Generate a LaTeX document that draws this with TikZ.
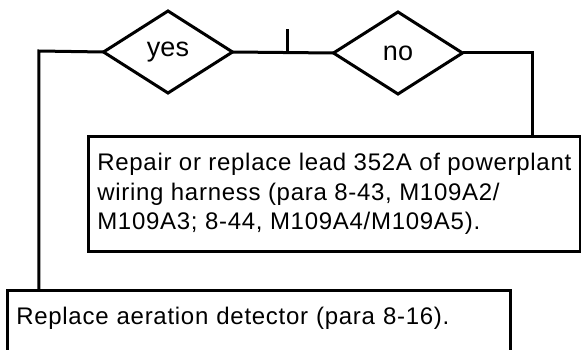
\documentclass[tikz,border=0pt]{standalone}
\usepackage{fontspec}
\setmainfont{Liberation Sans}
\usepackage{tikz}
\usetikzlibrary{positioning, calc, shapes.geometric}
\tikzset{
  actbox/.style={rectangle, draw, line width=2.6pt, fill=white, anchor=north west,
    align=left, inner xsep=9pt, font=\fontsize{24}{29.5}\selectfont\addfontfeatures{LetterSpace=3}},
  query/.style={diamond, draw, line width=3pt, inner sep=0pt, outer sep=0pt,
    minimum width=129pt, minimum height=82pt, font=\fontsize{27}{27}\selectfont},
  flow/.style={line width=3pt},
}

\begin{document}
\begin{tikzpicture}[x=1pt, y=-1pt]
    \clip (0,0) rectangle (581,350);
    \fill[white] (0,0) rectangle (581,350);
    \node[query] (yes) at (168,52) {yes};
    \node[query] (no) at (398,53) {no};
    \node[actbox, minimum width=491pt, minimum height=115pt] (repair) at (87,135)
      {Repair or replace lead 352A of powerplant\\wiring harness (para 8-43, M109A2/\\M109A3; 8-44, M109A4/M109A5).};
    \node[actbox, text width=485pt, inner ysep=17pt, text height=17pt, text depth=60pt] (replace) at (6,289)
      {Replace aeration detector (para 8-16).};
    \coordinate (lt) at (38.8,51);
    \coordinate (rt) at (532,53);
    \coordinate (tk) at (287,29.5);
    \draw[flow] (yes.west) -- (lt) -- (lt |- replace.north);
    \draw[flow] (yes.east) -- (no.west);
    \draw[flow] (tk) -- (tk |- yes.east);
    \draw[flow] (no.east) -- (rt) -- (rt |- repair.north);
  \end{tikzpicture}
\end{document}
